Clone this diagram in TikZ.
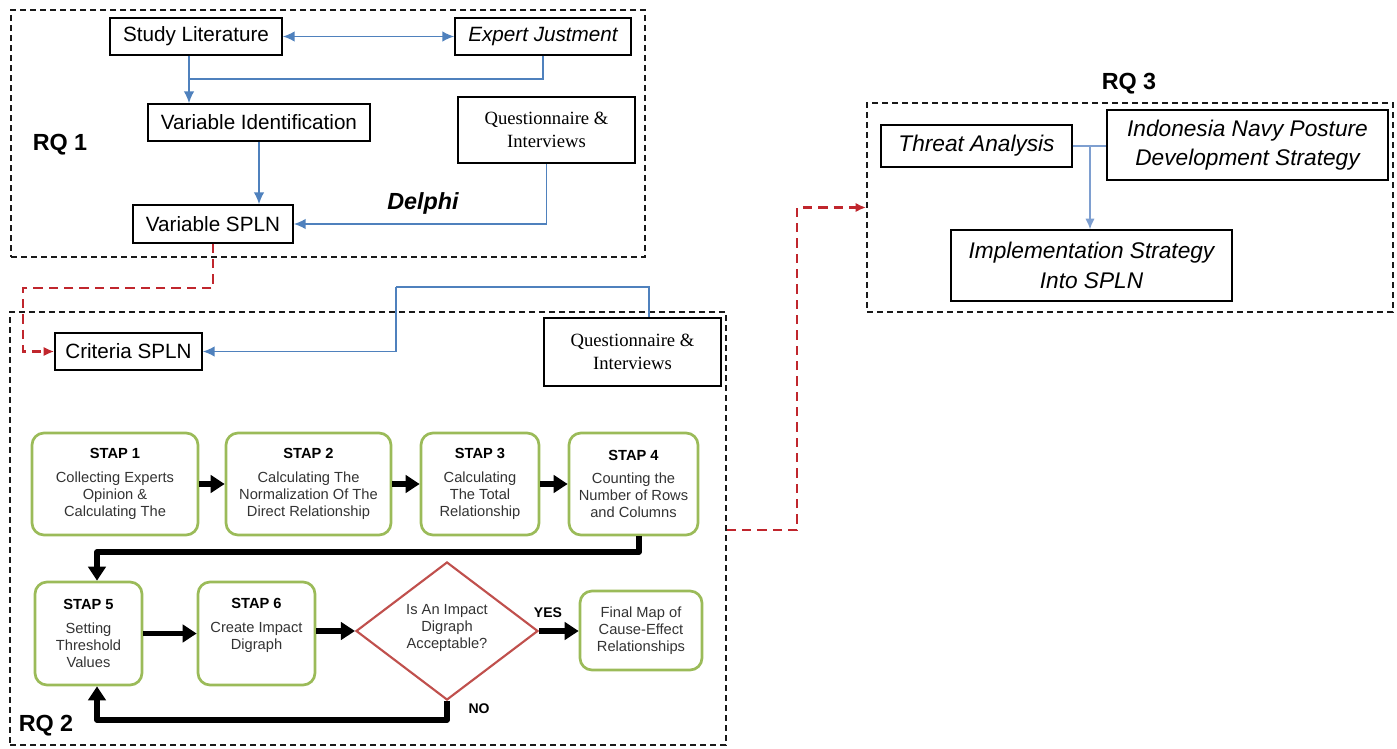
\documentclass[tikz,border=0pt]{standalone}
\usepackage{fontspec}
\setmainfont{Liberation Sans}
\newfontfamily\qserif{Liberation Serif}
\usetikzlibrary{arrows.meta,shapes.geometric,calc}
\definecolor{bl}{HTML}{4F81BD}
\definecolor{blthin}{HTML}{7E9FD0}
\definecolor{grn}{HTML}{9BBB59}
\definecolor{rd}{HTML}{C0504D}
\definecolor{rdd}{HTML}{C0262D}
\definecolor{txtg}{HTML}{333333}
\tikzset{
 corners/.style n args={4}{minimum width={(#3-#1)*0.75pt}, minimum height={(#4-#2)*0.75pt}, at={({(#1+#3)/2},{(#2+#4)/2})}},
 plainbox/.style={draw=black, line width=1.1pt, inner sep=0pt, align=center, font=\fontsize{15.5}{18}\selectfont},
 qbox/.style={draw=black, line width=2.2pt, inner sep=0pt, align=center, font=\qserif\fontsize{14}{17.5}\selectfont},
 rqthreebox/.style={draw=black, line width=1.1pt, inner sep=0pt, align=center, font=\itshape\fontsize{17}{22}\selectfont},
 groupbox/.style={draw=black!90, line width=1.2pt, dash pattern=on 4.5pt off 3pt, inner sep=0pt},
 stepbox/.style={draw=grn, line width=2pt, rounded corners=9pt, inner sep=0pt, align=center, text=txtg, font=\fontsize{11}{12.75}\selectfont},
 bluearrow/.style={draw=bl, line width=1.3pt, -{Latex[length=9pt,width=8pt]}},
 bluetwo/.style={draw=bl, line width=1.3pt, {Latex[length=9pt,width=8pt]}-{Latex[length=9pt,width=8pt]}},
 blueline/.style={draw=bl, line width=1.3pt},
 thinblue/.style={draw=blthin, line width=1pt},
 thinbluearrow/.style={draw=blthin, line width=1pt, -{Latex[length=8pt,width=7pt]}},
 reddash/.style={draw=rdd, line width=1.6pt, dash pattern=on 7pt off 4.5pt, -{Latex[length=8pt,width=7pt]}},
 thickarrow/.style={draw=black, line width=3.9pt, line join=round, -{Triangle[length=10.5pt,width=13pt]}},
 rqlabel/.style={font=\bfseries\fontsize{17.5}{20}\selectfont},
 smalllabel/.style={font=\bfseries\fontsize{10.5}{12}\selectfont},
}
\newcommand{\sthead}[1]{{\color{black}\bfseries #1}\\[5pt]}
\begin{document}
\begin{tikzpicture}[x=0.75pt,y=-0.75pt]
\useasboundingbox (0,0) rectangle (1397,749);

% group boxes
\node[groupbox, corners={11}{10}{645}{257}] (rq1) {};
\node[groupbox, corners={10}{312}{726}{745}] (rq2) {};
\node[groupbox, corners={867}{103}{1393}{312}] (rq3) {};

% RQ1
\node[plainbox, corners={110}{18}{282}{55}] (sl) {Study Literature};
\node[plainbox, corners={455}{18}{631}{55}, font=\itshape\fontsize{15.5}{18}\selectfont] (ej) {Expert Justment};
\node[plainbox, corners={148}{104}{370}{141}] (vi) {Variable Identification};
\node[qbox, corners={458}{97}{635}{163}] (qa) {Questionnaire \&\\Interviews};
\node[plainbox, corners={133}{205}{293}{243}] (vs) {Variable SPLN};
\node[rqlabel] (rq1l) at (60,145) {RQ 1};
\node[font=\bfseries\itshape\fontsize{17.5}{20}\selectfont] (delphi) at (423,203) {Delphi};
\coordinate (jx) at (189,79);

\draw[bluetwo] (sl.east) -- (ej.west);
\draw[blueline] (ej.south) |- (jx);
\draw[bluearrow] (sl.south -| jx) -- (vi.north -| jx);
\draw[bluearrow] (vi.south) -- (vi.south |- vs.north);
\draw[bluearrow] (qa.south) |- (vs.east);

% RQ2 top
\node[plainbox, corners={55}{333}{202}{370}] (crit) {Criteria SPLN};
\node[qbox, corners={544}{318}{721}{386}] (qb) {Questionnaire \&\\Interviews};
\coordinate (rc) at (23,288);
\coordinate (b1) at (649,287);
\coordinate (b2) at (396,287);
\draw[reddash] (vs.south) |- (rc) |- (crit.west);
\draw[blueline] (qb.north -| b1) -- (b1) -- (b2);
\draw[bluearrow] (b2) |- (crit.east);

% steps row 1
\node[stepbox, corners={32}{433}{198}{535}] (s1) {\sthead{STAP 1}Collecting Experts\\Opinion \&\\Calculating The};
\node[stepbox, corners={226}{433}{391}{535}] (s2) {\sthead{STAP 2}Calculating The\\Normalization Of The\\Direct Relationship};
\node[stepbox, corners={421}{433}{539}{535}] (s3) {\sthead{STAP 3}Calculating\\The Total\\Relationship};
\node[stepbox, corners={569}{433}{698}{535}] (s4) {\sthead{STAP 4}Counting the\\Number of Rows\\and Columns};
\draw[thickarrow] (s1.east) -- (s2.west);
\draw[thickarrow] (s2.east) -- (s3.west);
\draw[thickarrow] (s3.east) -- (s4.west);

% steps row 2
\node[stepbox, corners={35}{582}{142}{685}] (s5) {\sthead{STAP 5}Setting\\Threshold\\Values};
\node[stepbox, corners={198}{582}{315}{685}] (s6) {\sthead{STAP 6}Create Impact\\Digraph\\[2pt]};
\node[diamond, draw=rd, line width=1.6pt, minimum width=136.5pt, minimum height=103.5pt, inner sep=0pt] (dia) at (447,631) {};
\node[align=center, text=txtg, font=\fontsize{11}{12.75}\selectfont] (diat) at (447,628) {Is An Impact\\Digraph\\Acceptable?};
\node[stepbox, corners={580}{591}{702}{670}] (fin) {Final Map of\\Cause-Effect\\Relationships};

\coordinate (t1) at (97,552);
\coordinate (t2) at (97,720);
\draw[thickarrow] (s4.south -| 639,0) |- (t1) -- (t1 |- s5.north);
\draw[thickarrow] (s5.east) -- (s6.west);
\draw[thickarrow] (s6.east |- dia.west) -- (dia.west);
\draw[thickarrow] (dia.east) -- (dia.east -| fin.west);
\draw[thickarrow] (dia.south) |- (t2) -- (t2 |- s5.south);
\node[smalllabel] (yes) at (548,613) {YES};
\node[smalllabel] (no) at (479,709) {NO};
\node[rqlabel] (rq2l) at (46,726) {RQ 2};

% RQ3
\node[rqlabel] (rq3l) at (1129,84) {RQ 3};
\node[rqthreebox, corners={881}{125}{1072}{167}] (ta) {Threat Analysis};
\node[rqthreebox, corners={1107}{110}{1388}{180}] (nav) {Indonesia Navy Posture\\Development Strategy};
\node[rqthreebox, corners={951}{230}{1232}{301}] (imp) {Implementation Strategy\\Into SPLN};
\coordinate (j3) at (1090,146);
\draw[thinblue] (ta.east) -- (ta.east -| nav.west);
\draw[thinbluearrow] (j3) -- (j3 |- imp.north);

% RQ2 -> RQ3
\coordinate (r2) at (797,530);
\draw[reddash] (rq2.east |- r2) -- (r2) |- (rq3.west);
\end{tikzpicture}
\end{document}
